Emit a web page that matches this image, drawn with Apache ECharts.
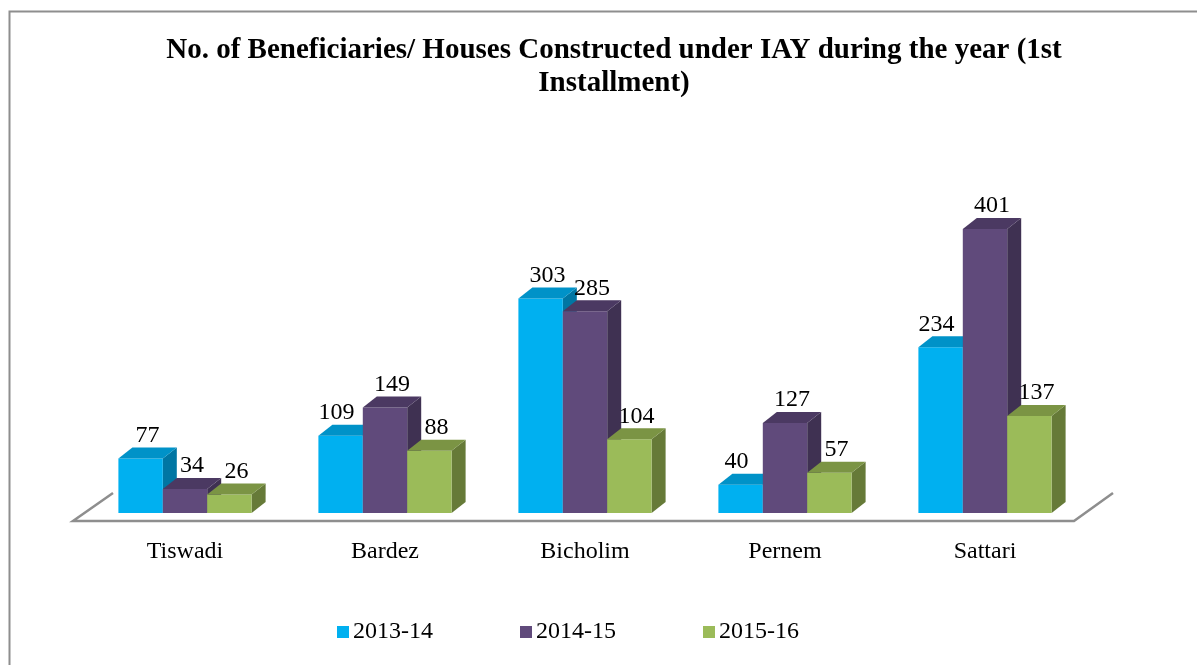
<!DOCTYPE html>
<html>
<head>
<meta charset="utf-8">
<style>
  html, body { margin: 0; padding: 0; background: #ffffff; }
  #chart { width: 1197px; height: 665px; }
</style>
<script src="https://cdn.jsdelivr.net/npm/echarts@6/dist/echarts.min.js"></script>
</head>
<body>
<div id="chart"></div>
<script>
const categories = ["Tiswadi", "Bardez", "Bicholim", "Pernem", "Sattari"];
const years = ["2013-14", "2014-15", "2015-16"];
const values2013 = [77, 109, 303, 40, 234];
const values2014 = [34, 149, 285, 127, 401];
const values2015 = [26, 88, 104, 57, 137];

const seriesValues = [values2013, values2014, values2015];
const faceColors = [
  { front: "#00b0f0", top: "#0092c8", side: "#0076a3" },
  { front: "#604a7b", top: "#4b3962", side: "#3f3152" },
  { front: "#9bbb59", top: "#7b9444", side: "#667a38" }
];

const FONT = "'Liberation Serif', 'Times New Roman', serif";
const DEPTH_X = 14;
const DEPTH_Y = -11;

const chart = echarts.init(document.getElementById("chart"));

function barRenderer(seriesIndex) {
  return function (params, api) {
    const cat = api.value(0);
    const val = api.value(1);
    const band = api.size([1, 0])[0];
    const w = band * 0.222;
    const base = api.coord([cat, 0]);
    const top = api.coord([cat, val]);
    const x0 = base[0] - 1.5 * w + seriesIndex * w;
    const x1 = x0 + w;
    const yb = base[1];
    const yt = top[1];
    const c = faceColors[seriesIndex];
    // nudge the label left when the next bar in the group is taller
    const next = seriesValues[seriesIndex + 1];
    let labelX = (x0 + x1 + DEPTH_X) / 2;
    if (next && next[cat] > val) {
      labelX -= 11;
    }
    return {
      type: "group",
      children: [
        {
          type: "polygon",
          shape: { points: [[x1, yb], [x1 + DEPTH_X, yb + DEPTH_Y], [x1 + DEPTH_X, yt + DEPTH_Y], [x1, yt]] },
          style: { fill: c.side }
        },
        {
          type: "rect",
          shape: { x: x0, y: yt, width: w, height: yb - yt },
          style: { fill: c.front }
        },
        {
          type: "polygon",
          shape: { points: [[x0, yt], [x0 + DEPTH_X, yt + DEPTH_Y], [x1 + DEPTH_X, yt + DEPTH_Y], [x1, yt]] },
          style: { fill: c.top }
        },
        {
          type: "text",
          x: labelX,
          y: yt + DEPTH_Y,
          style: {
            text: String(val),
            fill: "#000000",
            font: "24px " + FONT,
            align: "center",
            verticalAlign: "bottom"
          }
        }
      ]
    };
  };
}

function floorRenderer(params, api) {
  const band = api.size([1, 0])[0];
  const first = api.coord([0, 0]);
  const last = api.coord([categories.length - 1, 0]);
  const fl = [first[0] - band / 2 - 12, first[1] + 8];
  const fr = [last[0] + band / 2 - 11, last[1] + 8];
  return {
    type: "polyline",
    shape: { points: [[fl[0] + 40, fl[1] - 28], fl, fr, [fr[0] + 39, fr[1] - 28]] },
    style: { stroke: "#8e8e8e", lineWidth: 2.5, fill: null }
  };
}

const series = [
  {
    name: "floor",
    type: "custom",
    z: 1,
    silent: true,
    renderItem: floorRenderer,
    data: [[0, 0]]
  }
];
years.forEach(function (year, i) {
  series.push({
    name: year,
    type: "custom",
    z: 2,
    itemStyle: { color: faceColors[i].front },
    renderItem: barRenderer(i),
    data: seriesValues[i].map(function (v, k) { return [k, v]; })
  });
});

chart.setOption({
  backgroundColor: "#ffffff",
  animation: false,
  title: {
    text: "No. of Beneficiaries/ Houses Constructed under IAY during the year (1st\nInstallment)",
    left: 609,
    textAlign: "center",
    top: 29,
    textStyle: {
      fontFamily: FONT,
      fontSize: 29,
      fontWeight: "bold",
      color: "#000000",
      lineHeight: 33
    }
  },
  graphic: [
    {
      type: "rect",
      left: 7,
      top: 9,
      shape: { width: 1400, height: 900 },
      style: { fill: null, stroke: "#8e8e8e", lineWidth: 2 },
      silent: true
    }
  ],
  legend: {
    data: years,
    left: 332,
    top: 615,
    icon: "rect",
    itemWidth: 12,
    itemHeight: 12,
    itemGap: 87,
    textStyle: { fontFamily: FONT, fontSize: 24, color: "#000000", padding: [0, 0, 0, -1] }
  },
  grid: {
    left: 85,
    right: 112,
    top: 159,
    bottom: 152
  },
  xAxis: {
    type: "category",
    data: categories,
    axisLine: { show: false },
    axisTick: { show: false },
    axisLabel: { fontFamily: FONT, fontSize: 24, color: "#000000", margin: 27 }
  },
  yAxis: {
    type: "value",
    min: 0,
    max: 500,
    show: false
  },
  series: series
});
</script>
</body>
</html>
